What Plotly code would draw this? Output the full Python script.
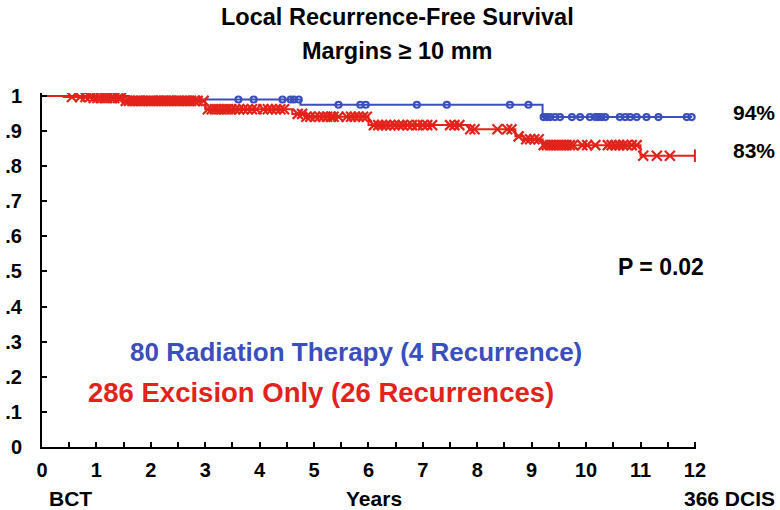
import plotly.graph_objects as go

# Kaplan-Meier step data (years, survival fraction)
rt_event_times = [1.6, 4.75, 9.2]
rt_survival = [0.99, 0.975, 0.94]
rt_censor_times = [1.85, 2.09, 2.21, 2.31, 2.43, 2.73, 3.61, 3.89, 4.42, 4.57, 4.63, 4.72,
                   5.45, 5.85, 5.95, 6.89, 7.44, 8.6, 8.94, 9.22, 9.28, 9.34, 9.43, 9.52,
                   9.74, 9.89, 10.07, 10.17, 10.22, 10.28, 10.35, 10.62, 10.72, 10.81,
                   10.93, 11.11, 11.33, 11.85, 11.94]
rt_end = 11.95

ex_event_times = [0.4, 0.9, 1.5, 3.0, 4.6, 4.85, 6.0, 7.85, 8.7, 8.85, 9.2, 11.0]
ex_survival = [0.997, 0.994, 0.986, 0.962, 0.949, 0.941, 0.917, 0.905, 0.885, 0.877, 0.86, 0.83]
ex_censor_times = [0.55, 0.7, 0.8, 0.88, 0.95, 1.02, 1.08, 1.15, 1.2, 1.27, 1.33, 1.4, 1.45,
                   1.54, 1.6, 1.66, 1.72, 1.78, 1.84, 1.9, 1.96, 2.02, 2.08, 2.14, 2.2, 2.26,
                   2.32, 2.38, 2.44, 2.5, 2.56, 2.62, 2.68, 2.74, 2.8, 2.86, 2.97, 3.05, 3.12,
                   3.18, 3.24, 3.3, 3.36, 3.42, 3.48, 3.55, 3.62, 3.7, 3.78, 3.86, 3.94, 4.07,
                   4.15, 4.22, 4.3, 4.38, 4.45, 4.7, 4.78, 4.86, 4.93, 5.02, 5.1, 5.17, 5.24,
                   5.31, 5.36, 5.45, 5.6, 5.68, 5.75, 5.82, 5.9, 5.97, 6.1, 6.18, 6.25, 6.32,
                   6.4, 6.48, 6.56, 6.63, 6.72, 6.8, 6.9, 7.0, 7.08, 7.17, 7.5, 7.58, 7.67,
                   7.87, 7.95, 8.37, 8.55, 8.63, 8.76, 8.9, 8.97, 9.05, 9.13, 9.22, 9.28,
                   9.34, 9.4, 9.46, 9.52, 9.58, 9.64, 9.7, 9.76, 9.93, 10.02, 10.17, 10.4,
                   10.47, 10.54, 10.61, 10.68, 10.75, 10.84, 10.93, 11.05, 11.3, 11.54]
ex_end = 12.0

x_ticks = list(range(13))
y_tick_vals = [0, 0.1, 0.2, 0.3, 0.4, 0.5, 0.6, 0.7, 0.8, 0.9, 1.0]
y_tick_text = ["0", ".1", ".2", ".3", ".4", ".5", ".6", ".7", ".8", ".9", "1"]

BLUE = "#3a4fbc"
RED = "#e3231b"
FONT = "Liberation Sans, Arial, sans-serif"

W, H = 780, 510
ML, MR, MT, MB = 42, 84, 93, 63


def surv_at(t, times, surv):
    s = 1.0
    for et, sv in zip(times, surv):
        if t >= et:
            s = sv
    return s


def step_xy(times, surv, end):
    xs = [0.0] + list(times) + [end]
    ys = [1.0] + list(surv) + [surv[-1]]
    return xs, ys


fig = go.Figure()

for times, surv, end, censors, color, sym, size in [
    (rt_event_times, rt_survival, rt_end, rt_censor_times, BLUE, "circle-open", 6),
    (ex_event_times, ex_survival, ex_end, ex_censor_times, RED, "x-thin-open", 10),
]:
    xs, ys = step_xy(times, surv, end)
    fig.add_trace(go.Scatter(x=xs, y=ys, mode="lines", line=dict(color=color, width=2, shape="hv"),
                             hoverinfo="skip", showlegend=False))
    fig.add_trace(go.Scatter(x=censors, y=[surv_at(t, times, surv) for t in censors], mode="markers",
                             marker=dict(symbol=sym, size=size, color=color, line=dict(color=color, width=2.2)),
                             showlegend=False))

# end-of-follow-up bar on the excision curve
fig.add_trace(go.Scatter(x=[ex_end], y=[ex_survival[-1]], mode="markers",
                         marker=dict(symbol="line-ns", size=9, color=RED, line=dict(color=RED, width=2)),
                         showlegend=False))


def px(x, y):
    return (x - ML) / (W - ML - MR), (H - MB - y) / (H - MT - MB)


def text(s, x, y, size, color="black", xanchor="center"):
    xp, yp = px(x, y)
    fig.add_annotation(text=s, x=xp, y=yp, xref="paper", yref="paper", showarrow=False,
                       xanchor=xanchor, yanchor="middle",
                       font=dict(family=FONT, size=size, color=color, weight="bold"))


text("Local Recurrence-Free Survival", 397, 17, 23.5)
text("Margins ≥ 10 mm", 397, 51, 23.5)
text("94%", 754, 112, 21)
text("83%", 754, 150, 21)
text("P = 0.02", 661, 267, 23)
text("80 Radiation Therapy (4 Recurrence)", 356, 352, 26, BLUE)
text("286 Excision Only (26 Recurrences)", 321, 392, 27.5, RED)
text("BCT", 47, 498, 21, xanchor="left")
text("Years", 374, 498, 21)
text("366 DCIS", 777, 498, 21, xanchor="right")

fig.update_layout(
    width=W, height=H, margin=dict(l=ML, r=MR, t=MT, b=MB, autoexpand=False),
    paper_bgcolor="white", plot_bgcolor="white",
    font=dict(family=FONT, size=16, color="black"),
    xaxis=dict(range=[0, 12.02], tickvals=x_ticks, showgrid=False, zeroline=False, automargin=False,
               showline=True, linecolor="black", linewidth=2,
               ticks="inside", ticklen=5, tickwidth=1.5, tickcolor="black",
               minor=dict(dtick=0.5, tick0=0, ticks="inside", ticklen=5, tickwidth=1.5, tickcolor="black"),
               tickfont=dict(family=FONT, size=20, weight="bold"), ticklabelstandoff=4),
    yaxis=dict(range=[0, 1.0085], tickvals=y_tick_vals, ticktext=y_tick_text, showgrid=False,
               automargin=False, zeroline=False, showline=True, linecolor="black", linewidth=2,
               ticks="inside", ticklen=5, tickwidth=1.5, tickcolor="black",
               tickfont=dict(family=FONT, size=20, weight="bold"), ticklabelstandoff=14),
)

fig.write_html("out.html")
